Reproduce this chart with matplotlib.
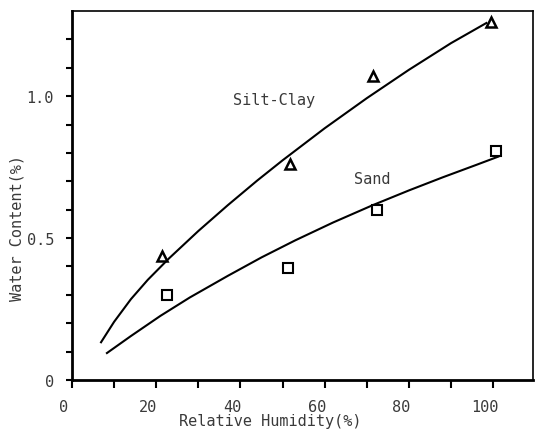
import numpy as np
import matplotlib
matplotlib.use("Agg")
import matplotlib.pyplot as plt
from matplotlib.transforms import ScaledTranslation

# measured points
silt_rh = [21.4, 51.8, 71.4, 99.6]
silt_wc = [0.436, 0.760, 1.070, 1.260]
sand_rh = [22.5, 51.3, 72.4, 100.6]
sand_wc = [0.299, 0.393, 0.599, 0.807]

# fitted curves
silt_curve_rh = [6.9, 10.0, 14.0, 18.0, 23.0, 30.0, 37.0, 44.0, 50.0, 60.0, 70.0, 80.0, 90.0, 98.4]
silt_curve_wc = [0.133, 0.205, 0.285, 0.353, 0.428, 0.525, 0.616, 0.703, 0.774, 0.887, 0.993, 1.093, 1.187, 1.258]
sand_curve_rh = [8.3, 14.0, 21.0, 28.0, 37.0, 45.0, 53.0, 62.0, 71.4, 80.0, 88.0, 96.0, 101.2]
sand_curve_wc = [0.095, 0.155, 0.226, 0.291, 0.367, 0.432, 0.492, 0.555, 0.616, 0.668, 0.714, 0.758, 0.787]

x_major = [0, 20, 40, 60, 80, 100]
y_major = [0, 0.5, 1.0]
y_major_labels = ["0", "0.5", "1.0"]

plt.rcParams['font.family'] = ['DejaVu Sans Mono']
txt_color = '#3a3a3a'

fig = plt.figure(figsize=(5.4, 4.31), dpi=100)
ax = fig.add_axes([0.1333, 0.116, 0.854, 0.856])

ax.plot(silt_curve_rh, silt_curve_wc, color='black', lw=1.5, solid_joinstyle='round')
ax.plot(sand_curve_rh, sand_curve_wc, color='black', lw=1.5, solid_joinstyle='round')
ax.plot(silt_rh, silt_wc, linestyle='none', marker='^', markersize=7.5,
        markerfacecolor='white', markeredgecolor='black', markeredgewidth=1.8)
ax.plot(sand_rh, sand_wc, linestyle='none', marker='s', markersize=6.5,
        markerfacecolor='white', markeredgecolor='black', markeredgewidth=1.5)

ax.text(48.0, 0.988, "Silt-Clay", fontsize=11, color=txt_color, ha='center', va='center')
ax.text(71.2, 0.71, "Sand", fontsize=11, color=txt_color, ha='center', va='center')

ax.set_xlim(0, 109.5)
ax.set_ylim(0, 1.3)

ax.set_xticks(x_major)
ax.set_xticks(np.arange(10, 110, 20), minor=True)
ax.set_yticks(y_major)
ax.set_yticklabels(y_major_labels)
ax.set_yticks(np.arange(0.1, 1.25, 0.1), minor=True)

ax.tick_params(axis='x', which='both', direction='out', length=6, width=1.5,
               labelsize=11, labelcolor=txt_color, pad=8)
ax.tick_params(axis='y', which='both', direction='out', length=4, width=1.5,
               labelsize=11, labelcolor=txt_color, pad=9)

# tick labels sit a little left of their ticks
shift = ScaledTranslation(-8 / 100, 0, fig.dpi_scale_trans)
for lab in ax.get_xticklabels():
    lab.set_transform(lab.get_transform() + shift)

for side in ['left', 'bottom']:
    ax.spines[side].set_linewidth(2.0)
for side in ['top', 'right']:
    ax.spines[side].set_linewidth(1.2)

ax.set_xlabel("Relative Humidity(%)", fontsize=11, color=txt_color)
ax.xaxis.set_label_coords(0.43, -0.09)
ax.set_ylabel("Water Content(%)", fontsize=11, color=txt_color)
ax.yaxis.set_label_coords(-0.102, 0.415)

fig.savefig("out.png", dpi=100)
